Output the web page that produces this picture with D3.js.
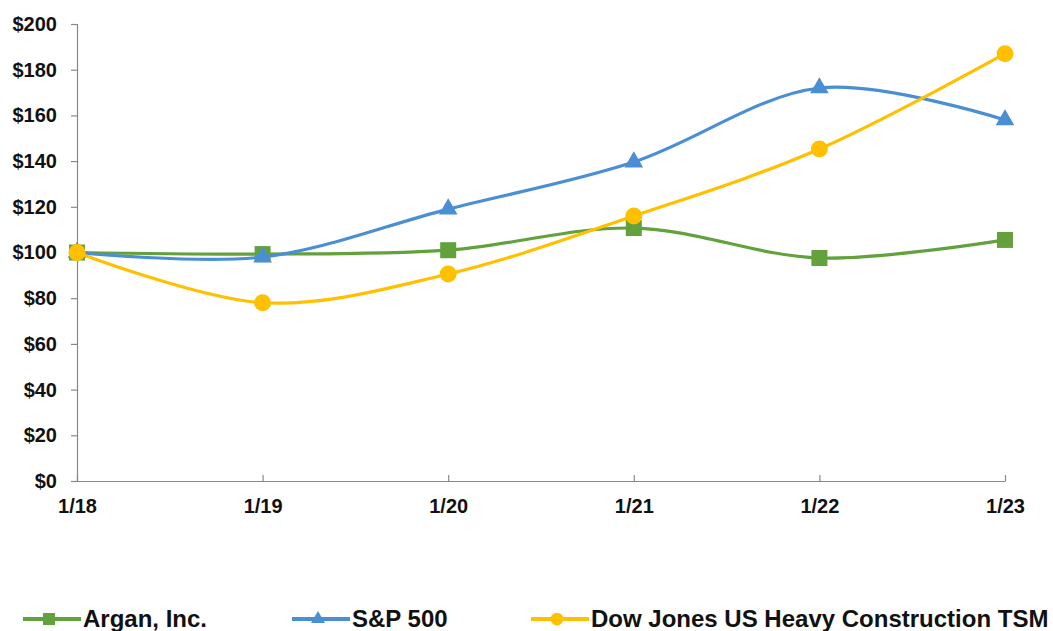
<!DOCTYPE html>
<html>
<head>
<meta charset="utf-8">
<script src="https://cdn.jsdelivr.net/npm/d3@7"></script>
<style>
  body { margin: 0; background: #fff; }
  text { font-family: "Liberation Sans", Arial, sans-serif; font-weight: bold; fill: #111; }
</style>
</head>
<body>
<svg id="chart" width="1053" height="631"></svg>
<script>
// data
var periods = ['1/18', '1/19', '1/20', '1/21', '1/22', '1/23']
var argan = [100, 99.3, 101, 110.7, 97.6, 105.5]
var sp500 = [100, 98, 119, 139.6, 172, 158]
var djHeavy = [100, 78, 90.6, 116, 145.3, 187]
var yTicks = [0, 20, 40, 60, 80, 100, 120, 140, 160, 180, 200]

var series = [
  { name: 'Argan, Inc.', values: argan, color: '#62A13B', shape: 'square' },
  { name: 'S&P 500', values: sp500, color: '#4A8ED4', shape: 'triangle' },
  { name: 'Dow Jones US Heavy Construction TSM', values: djHeavy, color: '#FFC000', shape: 'circle' }
]

var svg = d3.select('#chart')
var x = d3.scalePoint().domain(periods).range([77, 1005])
var y = d3.scaleLinear().domain([0, 200]).range([481, 24])

// y axis
var yAxis = svg.append('g').attr('transform', 'translate(77,0)')
  .call(d3.axisLeft(y).tickValues(yTicks).tickSize(6).tickPadding(14).tickFormat(function (d) { return '$' + d }))
yAxis.selectAll('path, line').attr('stroke', '#888').attr('stroke-width', 1.2)
yAxis.selectAll('text').style('font-size', '20px').attr('fill', '#111')

// x axis
var xAxis = svg.append('g').attr('transform', 'translate(0,481)')
  .call(d3.axisBottom(x).tickSize(-6).tickPadding(18).tickSizeOuter(0))
xAxis.selectAll('path, line').attr('stroke', '#888').attr('stroke-width', 1.2)
xAxis.selectAll('text').style('font-size', '20px').attr('fill', '#111')

var line = d3.line()
  .x(function (d, i) { return x(periods[i]) })
  .y(function (d) { return y(d) })
  .curve(d3.curveCatmullRom.alpha(0))

function marker (sel, shape, color, k) {
  if (shape === 'square') {
    sel.append('rect').attr('x', -8 * k).attr('y', -8 * k).attr('width', 16 * k).attr('height', 16 * k).attr('fill', color)
  } else if (shape === 'triangle') {
    sel.append('path').attr('d', d3.symbol().type(d3.symbolTriangle).size(150 * k * k)).attr('fill', color)
  } else {
    sel.append('circle').attr('r', 8.5 * k).attr('fill', color)
  }
}

series.forEach(function (s) {
  svg.append('path').datum(s.values)
    .attr('d', line)
    .attr('fill', 'none')
    .attr('stroke', s.color)
    .attr('stroke-width', 3.2)
  s.values.forEach(function (v, i) {
    var g = svg.append('g').attr('transform', 'translate(' + x(periods[i]) + ',' + y(v) + ')')
    marker(g, s.shape, s.color, 1)
  })
})

// legend
var legendX = [23, 292, 531]
series.forEach(function (s, i) {
  var g = svg.append('g').attr('transform', 'translate(' + legendX[i] + ',619)')
  g.append('line').attr('x1', 0).attr('x2', 58).attr('stroke', s.color).attr('stroke-width', 4)
  var m = g.append('g').attr('transform', 'translate(26,0)')
  marker(m, s.shape, s.color, 0.75)
  g.append('text').attr('x', 60).attr('y', 8).style('font-size', '24px').text(s.name)
})
</script>
</body>
</html>
